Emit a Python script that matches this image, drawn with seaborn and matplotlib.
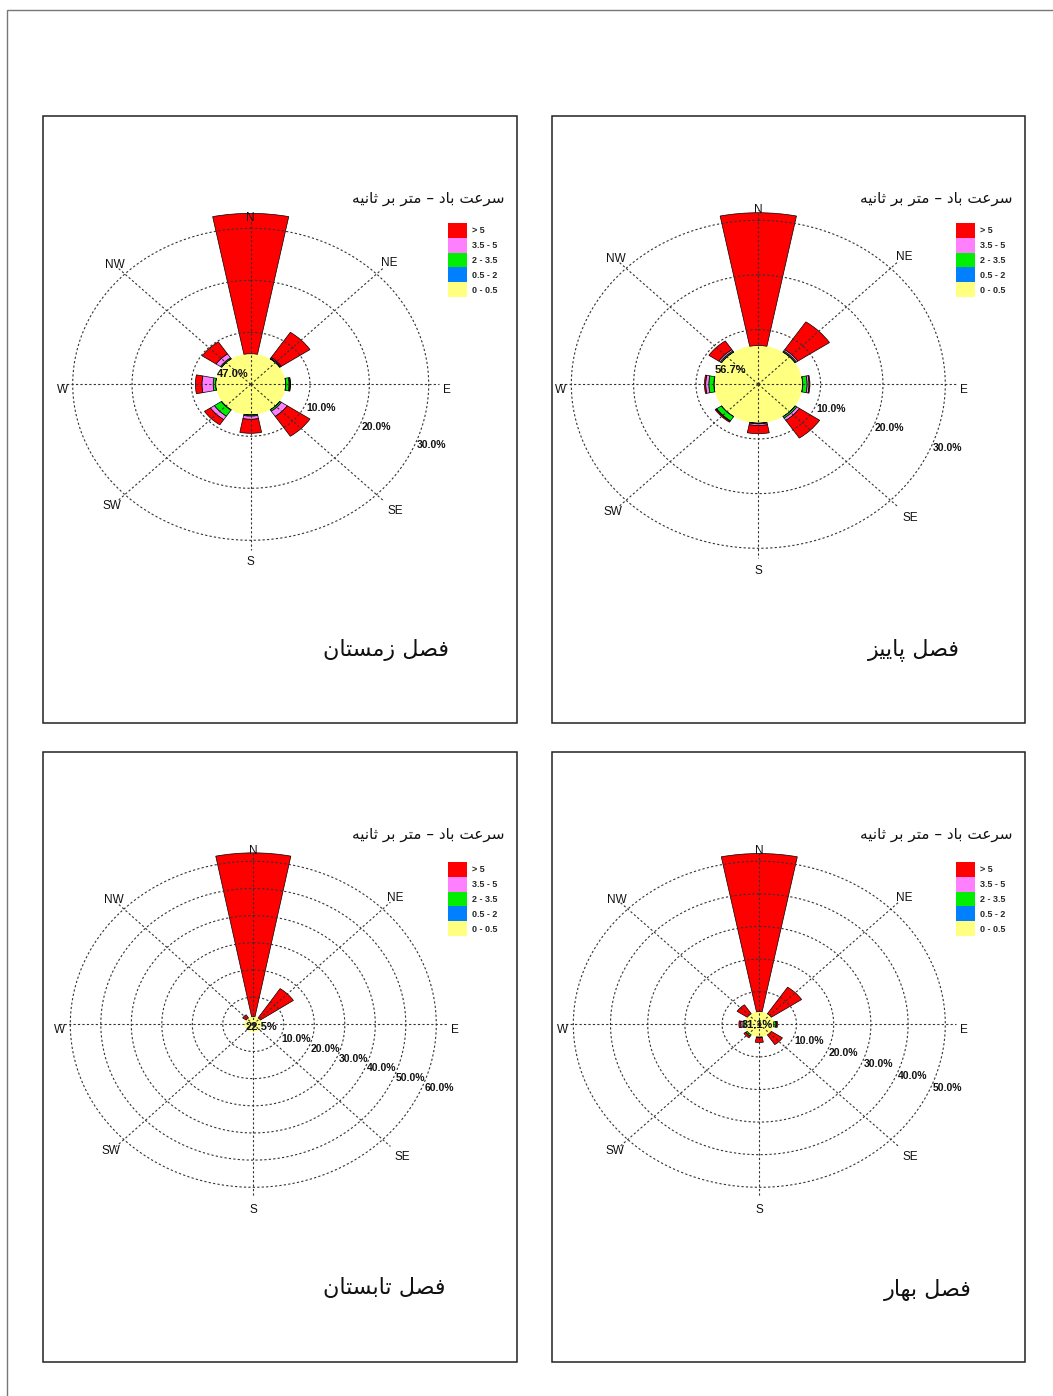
import matplotlib
matplotlib.use("Agg")
import matplotlib.pyplot as plt
import numpy as np
import seaborn as sns
from matplotlib.patches import Patch, Rectangle

sns.set_theme(style="white")
plt.rcParams["font.family"] = ["DejaVu Sans"]

# ---------------------------------------------------------------
# data (percent of time), directions clockwise from north
# ---------------------------------------------------------------
directions = ["N", "NE", "E", "SE", "S", "SW", "W", "NW"]
speed_labels = ["> 5", "3.5 - 5", "2 - 3.5", "0.5 - 2", "0 - 0.5"]
speed_colors = ["#ff0000", "#ff80ff", "#00ee00", "#0080ff", "#ffff80"]

season_names = ["فصل زمستان", "فصل پاییز", "فصل تابستان", "فصل بهار"]
calm_pct = [47.0, 56.7, 22.5, 31.1]
ring_max = [30, 30, 60, 50]

winter_blue = [0, 0.05, 0.05, 0.05, 0.05, 0.1, 0.05, 0.05]
winter_green = [0, 0.1, 0.55, 0.3, 0.2, 1.4, 0.4, 0.2]
winter_pink = [0, 0.2, 0.15, 1.2, 0.6, 0.8, 1.9, 0.9]
winter_red = [27.0, 5.8, 0.1, 4.6, 2.7, 1.2, 1.1, 2.8]

autumn_blue = [0, 0.05, 0.05, 0.05, 0.05, 0.05, 0.05, 0.05]
autumn_green = [0, 0.2, 0.7, 0.3, 0.1, 0.9, 0.8, 0.2]
autumn_pink = [0, 0.3, 0.3, 0.5, 0.3, 0.1, 0.5, 0.3]
autumn_red = [24.3, 6.1, 0.15, 3.9, 1.5, 0.2, 0.2, 1.9]

summer_blue = [0, 0, 0, 0, 0, 0, 0, 0]
summer_green = [0, 0, 0, 0, 0, 0, 0, 0]
summer_pink = [0, 0, 0, 0, 0, 0, 0, 0]
summer_red = [60.3, 13.0, 0, 0, 0, 0, 0, 1.4]

spring_blue = [0, 0, 0, 0, 0, 0, 0, 0]
spring_green = [0, 0, 0.6, 0, 0.2, 0.5, 0.5, 0]
spring_pink = [0, 0, 0.1, 0, 0, 0, 0.6, 0]
spring_red = [48.5, 9.8, 0.3, 3.6, 1.5, 0.6, 0.5, 3.3]

seasons = [
    [winter_blue, winter_green, winter_pink, winter_red],
    [autumn_blue, autumn_green, autumn_pink, autumn_red],
    [summer_blue, summer_green, summer_pink, summer_red],
    [spring_blue, spring_green, spring_pink, spring_red],
]

# ---------------------------------------------------------------
# simple Persian shaping (matplotlib has no RTL / joining support)
# ---------------------------------------------------------------
FORMS = {
    "ا": ("\ufe8d", "\ufe8e", None, None),
    "ب": ("\ufe8f", "\ufe90", "\ufe91", "\ufe92"),
    "پ": ("\ufb56", "\ufb57", "\ufb58", "\ufb59"),
    "ت": ("\ufe95", "\ufe96", "\ufe97", "\ufe98"),
    "ث": ("\ufe99", "\ufe9a", "\ufe9b", "\ufe9c"),
    "د": ("\ufea9", "\ufeaa", None, None),
    "ر": ("\ufead", "\ufeae", None, None),
    "ز": ("\ufeaf", "\ufeb0", None, None),
    "س": ("\ufeb1", "\ufeb2", "\ufeb3", "\ufeb4"),
    "ص": ("\ufeb9", "\ufeba", "\ufebb", "\ufebc"),
    "ع": ("\ufec9", "\ufeca", "\ufecb", "\ufecc"),
    "ف": ("\ufed1", "\ufed2", "\ufed3", "\ufed4"),
    "ل": ("\ufedd", "\ufede", "\ufedf", "\ufee0"),
    "م": ("\ufee1", "\ufee2", "\ufee3", "\ufee4"),
    "ن": ("\ufee5", "\ufee6", "\ufee7", "\ufee8"),
    "ه": ("\ufee9", "\ufeea", "\ufeeb", "\ufeec"),
    "ی": ("\ufbfc", "\ufbfd", "\ufbfe", "\ufbff"),
}


def shape_fa(text):
    out = []
    for i, ch in enumerate(text):
        if ch not in FORMS:
            out.append(ch)
            continue
        iso, fin, ini, med = FORMS[ch]
        prev = text[i - 1] if i > 0 else None
        nxt = text[i + 1] if i + 1 < len(text) else None
        join_prev = prev in FORMS and FORMS[prev][2] is not None
        join_next = ini is not None and nxt in FORMS
        if join_prev and join_next:
            out.append(med)
        elif join_prev:
            out.append(fin)
        elif join_next:
            out.append(ini)
        else:
            out.append(iso)
    return "".join(reversed(out))


# ---------------------------------------------------------------
# layout (pixels of the 1053x1396 canvas)
# ---------------------------------------------------------------
W, H = 1053, 1396
fig = plt.figure(figsize=(W / 100, H / 100), dpi=100)

# outer page frame (only top/left visible)
fig.patches.append(Rectangle((7 / W, -0.1), 1.2, 1.1 - 10 / H, transform=fig.transFigure,
                             fill=False, edgecolor="#777777", linewidth=1.0))

boxes = [(43, 116, 517, 723), (552, 116, 1025, 723), (43, 752, 517, 1362), (552, 752, 1025, 1362)]
centers = [(250.7, 384.3), (758.3, 384.3), (253.3, 1024.3), (759.3, 1024.3)]
semi = [(178, 156), (187, 164), (183, 163), (186, 163)]
calm_offsets = [(-18, 10), (-28, 14), (8, -3), (-2, -1)]
season_pos = [(386, 650), (914, 650), (384, 1288), (928, 1290)]
lab_frac = [1.065, 1.10, 1.10, 1.15, 1.14, 1.10, 1.06, 1.08]

theta = np.deg2rad(np.arange(len(directions)) * 45.0)
width = np.pi / 8

for k in range(4):
    x0, y0, x1, y1 = boxes[k]
    fig.patches.append(Rectangle((x0 / W, 1 - y1 / H), (x1 - x0) / W, (y1 - y0) / H,
                                 transform=fig.transFigure, fill=False,
                                 edgecolor="#222222", linewidth=1.1))

    cx, cy = centers[k]
    a, b = semi[k]
    rm = ring_max[k]
    rmax = rm * 1.2
    hw, hh = a * rmax / rm, b * rmax / rm
    ax = fig.add_axes([(cx - hw) / W, 1 - (cy + hh) / H, 2 * hw / W, 2 * hh / H],
                      projection="polar")
    ax.set_aspect("auto")
    ax.set_theta_zero_location("N")
    ax.set_theta_direction(-1)
    ax.set_ylim(0, rmax)
    ax.set_xticks([])
    ax.set_yticks([])
    ax.grid(False)
    ax.spines["polar"].set_visible(False)
    ax.patch.set_alpha(0)

    # calm circle
    calm_r = calm_pct[k] / len(directions)
    ax.bar(0, calm_r, width=2 * np.pi, bottom=0, color=speed_colors[4],
           edgecolor="none", zorder=1)

    # stacked sectors: blue, green, pink, red outward
    bottom = np.full(len(directions), calm_r)
    cls_colors = [speed_colors[3], speed_colors[2], speed_colors[1], speed_colors[0]]
    for vals, col in zip(seasons[k], cls_colors):
        v = np.array(vals, dtype=float)
        m = v > 0
        if m.any():
            ax.bar(theta[m], v[m], width=width, bottom=bottom[m], color=col,
                   edgecolor="black", linewidth=0.5, zorder=2)
        bottom = bottom + v

    # rings and spokes
    tt = np.linspace(0, 2 * np.pi, 361)
    for r in range(10, rm + 1, 10):
        ax.plot(tt, np.full_like(tt, r), color="#333333", linewidth=0.8,
                linestyle=(0, (2, 2)), zorder=3)
        ax.text(np.deg2rad(111), r, f"{r:.1f}%", ha="left", va="top",
                fontsize=7.5, fontweight="bold", family="Liberation Sans",
                color="#111111", zorder=4)
    for th in theta:
        ax.plot([th, th], [0, rm * 1.06], color="#333333", linewidth=0.8,
                linestyle=(0, (2, 2)), zorder=3)
    for th, name, fr in zip(theta, directions, lab_frac):
        dy = -6 if name in ("E", "W") else 0
        ax.annotate(name, (th, rm * fr), xytext=(0, dy), textcoords="offset pixels",
                    ha="center", va="center", fontsize=8.5, family="Liberation Sans",
                    color="#111111", annotation_clip=False, zorder=4)

    # calm label
    ox, oy = calm_offsets[k]
    ax.annotate(f"{calm_pct[k]:.1f}%", (0, 0), xytext=(ox, oy), textcoords="offset pixels",
                ha="center", va="center", fontsize=8, fontweight="bold",
                family="Liberation Sans", color="#111111", zorder=5)

    # legend
    fig.text((x1 - 12) / W, 1 - (y0 + 83) / H, shape_fa("سرعت باد – متر بر ثانیه"),
             ha="right", va="center", fontsize=11, color="#111111")
    handles = [Patch(facecolor=c, edgecolor="none", label=l)
               for c, l in zip(speed_colors, speed_labels)]
    lx = x1 - 69
    ly = y0 + 107 if k < 2 else y0 + 110
    fig.legend(handles=handles, loc="upper left", bbox_to_anchor=(lx / W, 1 - ly / H),
               frameon=False, handlelength=2.1, handleheight=2.15,
               handletextpad=0.6, labelspacing=0.0, borderpad=0, borderaxespad=0,
               prop={"family": "Liberation Sans", "weight": "bold", "size": 6.5})

    # season title
    sx, sy = season_pos[k]
    fig.text(sx / W, 1 - sy / H, shape_fa(season_names[k]), ha="center", va="center",
             fontsize=16, color="#111111")

fig.savefig("out.png", dpi=100)
